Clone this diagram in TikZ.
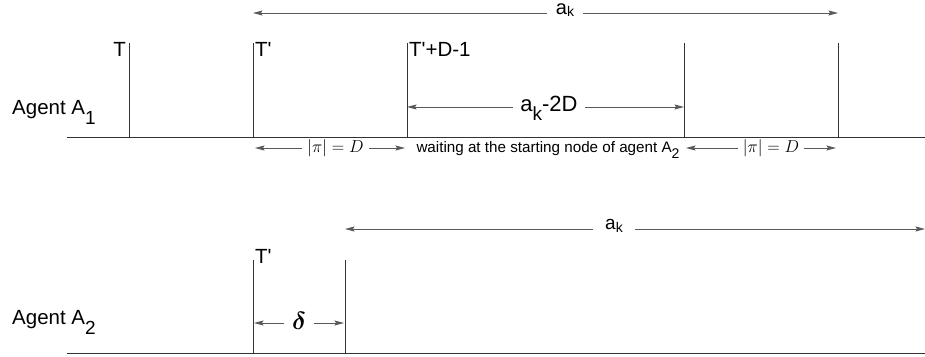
\documentclass[tikz,border=0pt]{standalone}
\usepackage{amsmath}
\usepackage{fontspec}
\setmainfont{Liberation Sans}
\usetikzlibrary{arrows.meta}

% lowered subscript in the text font
\newcommand{\lowsub}[3][0.45em]{\raisebox{-#1}{\fontsize{#2}{#2}\selectfont #3}}
\newcommand{\pr}{\textquotesingle}

\begin{document}
\begin{tikzpicture}[x=1pt,y=-1pt,
    axis/.style={draw=black!80, line width=1pt},
    tick/.style={draw=black!80, line width=1pt},
    dim/.style={draw=black!65, line width=0.85pt,
      -{Stealth[length=9.5pt,width=5pt,inset=1.5pt]}},
    lbl/.style={inner sep=0pt, font=\fontsize{20.5}{23}\selectfont},
    small/.style={inner sep=0pt, font=\fontsize{15.2}{17}\selectfont},
    mathlbl/.style={inner sep=0pt, font=\fontsize{17}{19}\selectfont},
  ]
\useasboundingbox (0,0) rectangle (925,356);

% ---------- agent A1 ----------
\coordinate (b1s) at (67,137);
\coordinate (b1e) at (925,137);
\draw[axis] (b1s) -- (b1e);

\foreach \n/\x in {t0/129, t1/253, t2/407, t3/684, t4/838} {
  \coordinate (\n b) at (\x,137);
  \coordinate (\n t) at (\x,43);
  \draw[tick] (\n b) -- (\n t);
}

\node[lbl, anchor=base west] (ag1) at (12,114) {Agent A\lowsub[0.5em]{19}{1}};
\node[lbl, anchor=north east] (lT) at (126,42) {T};
\node[lbl, anchor=north west] (lT1) at (255,42) {T\pr};
\node[lbl, anchor=north west] (lT2) at (409,42) {T\pr+D-1};

% full period a_k
\coordinate (ak1l) at (253,13);
\coordinate (ak1r) at (838,13);
\node[lbl, inner xsep=9pt, font=\fontsize{20}{22}\selectfont] (ak1) at (565,10)
  {a\lowsub[0.1em]{14}{k}};
\draw[dim] (ak1.west |- ak1l) -- (ak1l);
\draw[dim] (ak1.east |- ak1r) -- (ak1r);

% a_k - 2D
\coordinate (wl) at (407,107);
\coordinate (wr) at (684,107);
\node[lbl, inner xsep=7pt, anchor=base, font=\fontsize{22}{24}\selectfont] (w) at (549,111)
  {a\lowsub[0.42em]{19}{k}-2D};
\draw[dim] (w.west |- wl) -- (wl);
\draw[dim] (w.east |- wr) -- (wr);

% walks of length D and waiting time below the axis
\coordinate (p1l) at (253,148);
\coordinate (p1r) at (407,148);
\node[mathlbl, inner xsep=5pt] (p1) at (335.5,148) {$|\pi| = D$};
\draw[dim] (p1.west |- p1l) -- ([xshift=2pt]p1l);
\draw[dim] (p1.east |- p1r) -- ([xshift=-2pt]p1r);

\node[small, anchor=base] (wait) at (548,152)
  {waiting at the starting node of agent A\lowsub[0.4em]{14}{2}};

\coordinate (p2l) at (684,148);
\coordinate (p2r) at (838,148);
\node[mathlbl, inner xsep=5pt] (p2) at (771,148) {$|\pi| = D$};
\draw[dim] (p2.west |- p2l) -- ([xshift=2pt]p2l);
\draw[dim] (p2.east |- p2r) -- ([xshift=-2pt]p2r);

% ---------- agent A2 ----------
\coordinate (b2s) at (67,353);
\coordinate (b2e) at (925,353);
\draw[axis] (b2s) -- (b2e);

\foreach \n/\x in {u1/253, u2/345} {
  \coordinate (\n b) at (\x,353);
  \coordinate (\n t) at (\x,260);
  \draw[tick] (\n b) -- (\n t);
}

\node[lbl, anchor=base west] (ag2) at (12,324) {Agent A\lowsub[0.5em]{19}{2}};
\node[lbl, anchor=north west] (lU1) at (255,249) {T\pr};

% offset delta
\coordinate (dl) at (253,323);
\coordinate (dr) at (345,323);
\node[inner sep=0pt, inner xsep=8pt, font=\fontsize{25}{27}\selectfont] (d) at (299,321) {$\boldsymbol{\delta}$};
\draw[dim] (d.west |- dl) -- ([xshift=1pt]dl);
\draw[dim] (d.east |- dr) -- ([xshift=-1pt]dr);

% full period a_k of A2
\coordinate (ak2l) at (345,229);
\coordinate (ak2r) at (925,229);
\node[lbl, inner xsep=12pt, font=\fontsize{19}{21}\selectfont] (ak2) at (614,226)
  {a\lowsub[0.15em]{14}{k}};
\draw[dim] (ak2.west |- ak2l) -- (ak2l);
\draw[dim] (ak2.east |- ak2r) -- (ak2r);
\end{tikzpicture}
\end{document}
